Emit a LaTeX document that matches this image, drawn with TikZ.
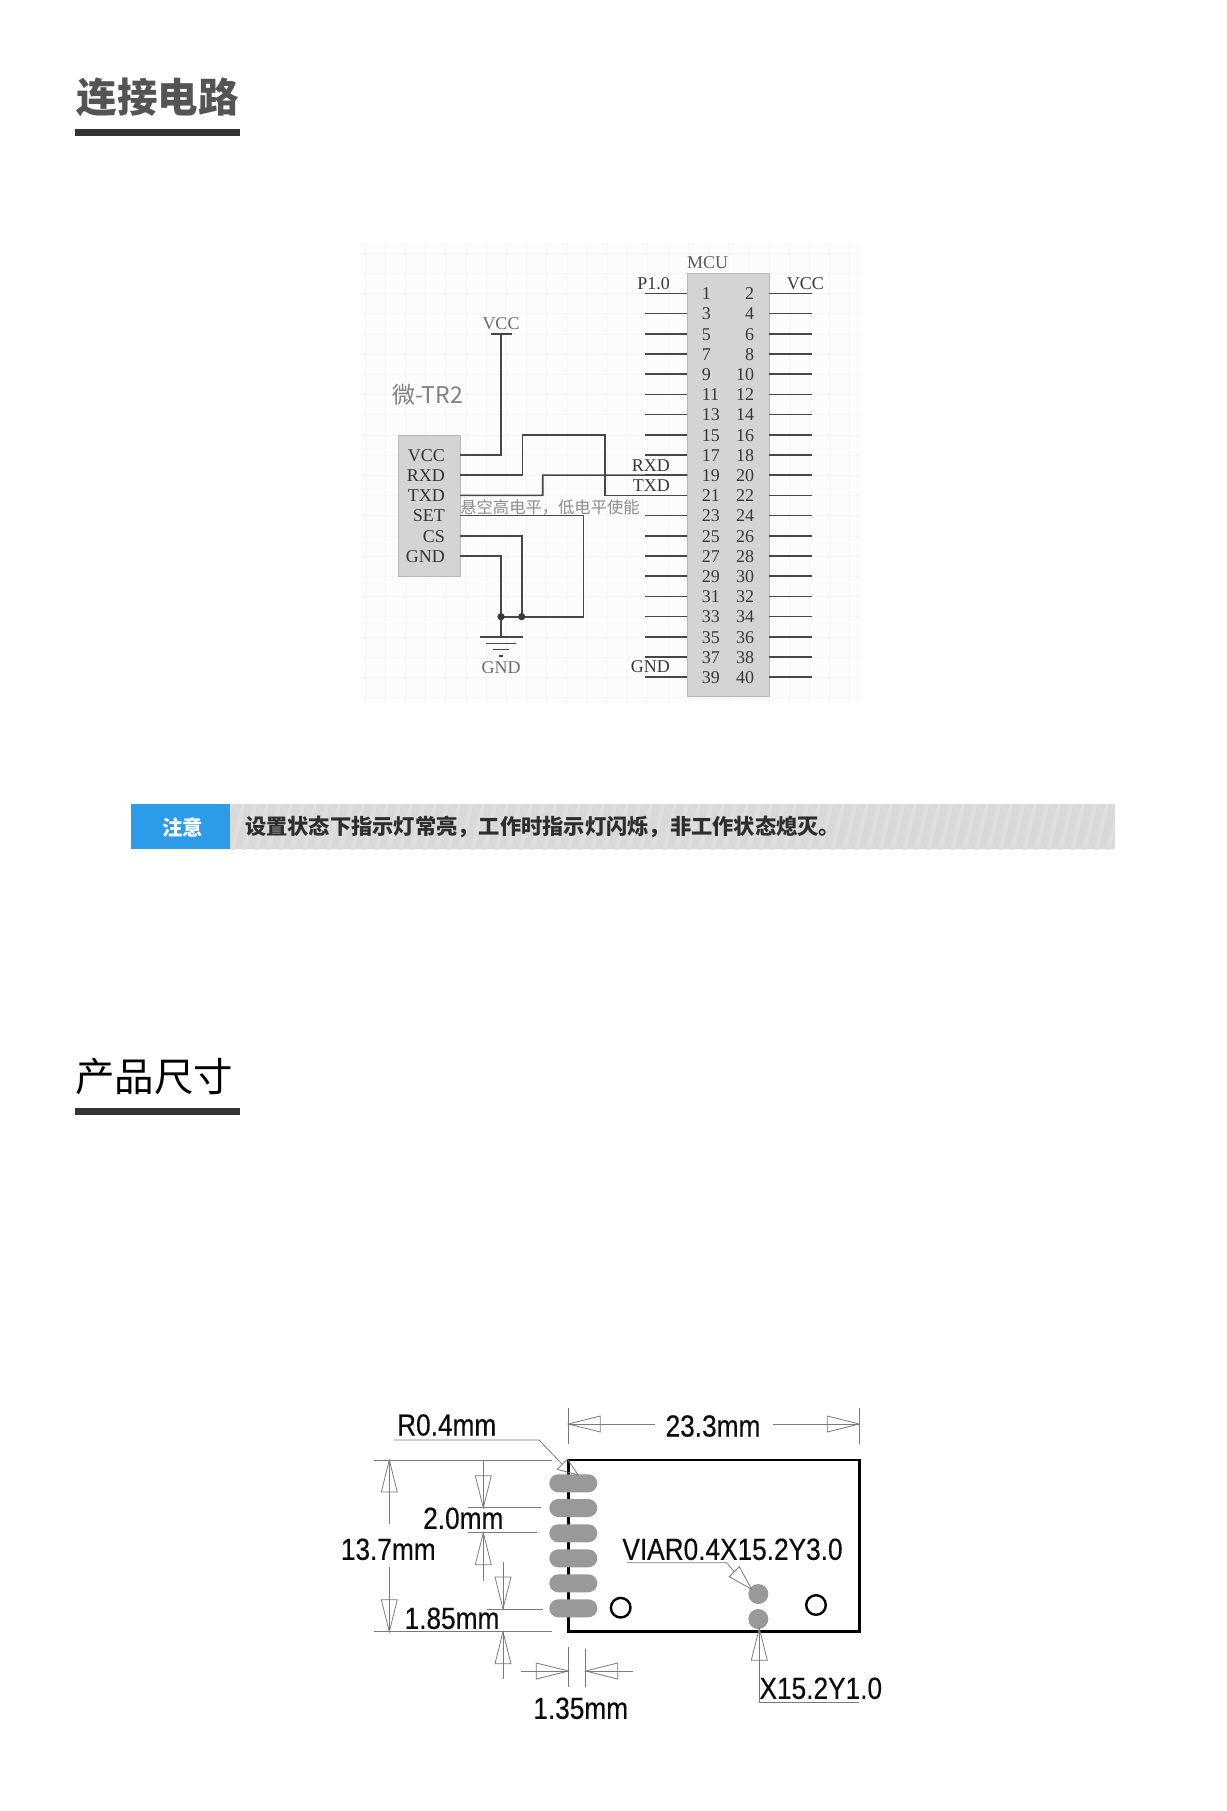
\documentclass[tikz,border=0pt]{standalone}
\usepackage{fontspec}
\setmainfont{Liberation Serif}
\newfontfamily\cjk{Noto Sans CJK SC}
\newfontfamily\dimf[FakeStretch=0.86,FakeBold=0.35]{Liberation Sans}
\newcommand{\fsz}[1]{\fontsize{#1}{#1}\selectfont}
\definecolor{noteblue}{HTML}{2C9CE8}
\tikzset{
  wire/.style={draw=black!72,line width=1.6pt},
  lbl/.style={inner sep=0pt,text=black!78,font=\fsz{18}},
  graylbl/.style={inner sep=0pt,text=black!58,font=\fsz{18}},
  chipbox/.style={draw=black!28,fill=black!17,line width=0.8pt,inner sep=0pt},
  dimline/.style={draw=black!52,line width=0.8pt},
  dimtext/.style={inner sep=0pt,text=black!95,font=\dimf\fsz{30.5}},
  pad/.style={fill=black!40,draw=none,rounded corners=9pt},
  opentip/.pic={\draw[dimline] (0,0)--(-32,-8)--(-32,8)--cycle;},
  gridln/.style={draw=black!3,line width=0.7pt},
  titlebar/.style={fill=black!80,draw=none,inner sep=0pt},
}
\begin{document}
\begin{tikzpicture}[x=1pt,y=-1pt]
\useasboundingbox (0,0) rectangle (1226,1811);
\fill[white] (0,0) rectangle (1226,1811);

% ---------- section titles ----------
\node[inner sep=0pt,text=black!67,font=\cjk\bfseries\fsz{40.5}] (t1) at (157.5,97) {连接电路};
\path[titlebar] (75,129) rectangle (240,136);
\node[inner sep=0pt,text=black,font=\cjk\fsz{39.5}] (t2) at (154,1077) {产品尺寸};
\path[titlebar] (75,1108) rectangle (240,1115);

% ---------- circuit background ----------
\fill[black!1.2] (360,243) rectangle (860,704);
\foreach \gx in {0,...,24} {\draw[gridln] (360+20.2*\gx+5,243) -- (360+20.2*\gx+5,704);}
\foreach \gy in {0,...,22} {\draw[gridln] (360,253.2+20.2*\gy) -- (860,253.2+20.2*\gy);}

% ---------- MCU ----------
\node[chipbox,minimum width=81.7pt,minimum height=423.4pt] (mcu) at (728.15,485) {};
\node[lbl,anchor=center,text=black!65] (mcut) at (707.5,263) {MCU};
\foreach \k in {0,...,19} {
  \pgfmathsetmacro{\py}{293.3+20.2*\k}
  \pgfmathsetmacro{\ty}{293.8+20.2*\k}
  \pgfmathtruncatemacro{\lnum}{2*\k+1}
  \pgfmathtruncatemacro{\rnum}{2*\k+2}
  \coordinate (mL\lnum) at (687.3,\py);
  \coordinate (sL\lnum) at (645,\py);
  \coordinate (mR\rnum) at (769,\py);
  \coordinate (sR\rnum) at (811.7,\py);
  \draw[wire] (sL\lnum) -- (mL\lnum);
  \draw[wire] (mR\rnum) -- (sR\rnum);
  \node[lbl,anchor=west] (nL\lnum) at (701.7,\ty) {\lnum};
  \node[lbl,anchor=east] (nR\rnum) at (754.3,\ty) {\rnum};
}
\node[lbl,anchor=east] (p10) at (670,283.5) {P1.0};
\node[lbl,anchor=west] (vccr) at (786.7,283.5) {VCC};
\node[lbl,anchor=east] (rxdm) at (670,465.7) {RXD};
\node[lbl,anchor=east] (txdm) at (670,485.7) {TXD};
\node[lbl,anchor=east] (gndm) at (670,667) {GND};

% ---------- module ----------
\node[inner sep=0pt,text=black!50,font=\cjk\fsz{23}] (modname) at (427.5,395) {微-TR2};
\node[chipbox,minimum width=61.7pt,minimum height=141pt] (mod) at (429.2,505.5) {};
\foreach \nm/\ly/\cname in {VCC/455.5/a,RXD/475.7/b,TXD/495.9/c,SET/516.1/d,CS/536.3/e,GND/556.5/f} {
  \node[lbl,anchor=east,text=black!80] (lab\cname) at (445,\ly) {\nm};
}
\foreach \ly/\cname in {455/a,475.2/b,495.4/c,515.6/d,535.8/e,556/f} {
  \coordinate (out\cname) at (460,\ly);
}
\coordinate (vcctop) at (501,334);
\coordinate (vccl) at (490.7,334);
\coordinate (vccr2) at (512.3,334);
\node[graylbl] (vcct) at (501,323.5) {VCC};
\draw[wire] (vccl) -- (vccr2);
\draw[wire] (outa) -| (vcctop);
% RXD of module to pin 21
\coordinate (r1) at (522.3,475.2);
\coordinate (r2) at (522.3,435);
\coordinate (r3) at (605,435);
\draw[wire] (outb) -- (r1) -- (r2) -- (r3) |- (mL21);
% TXD of module to pin 19
\coordinate (s1) at (542.7,495.4);
\coordinate (s2) at (542.7,475.1);
\draw[wire] (outc) -- (s1) -- (s2) -- (mL19);
% SET, CS, GND
\coordinate (jg) at (501,616.7);
\coordinate (jc) at (521.7,616.7);
\coordinate (gs1) at (583.3,515.6);
\coordinate (gs2) at (583.3,616.7);
\coordinate (gtop) at (501,636.7);
\draw[wire] (outd) -- (gs1) -- (gs2) -- (jg);
\draw[wire] (oute) -| (jc);
\draw[wire] (outf) -| (gtop);
\fill[black!78] (jg) circle (3.6pt) (jc) circle (3.6pt);
\draw[wire] (480,636.7) -- (522.7,636.7);
\draw[wire] (486,643.3) -- (516,643.3);
\draw[wire] (493,649.5) -- (509,649.5);
\draw[wire] (499,655.7) -- (503,655.7);
\node[graylbl] (gndt) at (501,667.5) {GND};
\node[inner sep=0pt,text=black!45,font=\cjk\fsz{16.3}] (note2) at (550,507.5) {悬空高电平，低电平使能};

% ---------- note bar ----------
\fill[black!15] (230,804) rectangle (1115,849);
\begin{scope}
  \clip (230,804) rectangle (1115,849);
  \foreach \sx in {0,...,75} {\draw[black!12.5,line width=4pt] (220+12*\sx,852) -- (232+12*\sx,801);}
\end{scope}
\fill[noteblue] (130.5,804) rectangle (230,849);
\node[inner sep=0pt,text=white,font=\cjk\bfseries\fsz{20.5}] (notea) at (182.5,827) {注意};
\node[anchor=west,inner sep=0pt,text=black!82,font=\cjk\bfseries\fsz{21.25}] (noteb) at (245,827) {设置状态下指示灯常亮，工作时指示灯闪烁，非工作状态熄灭。};

% ---------- dimension drawing ----------
\draw[black,line width=2.6pt] (568.3,1460) rectangle (859.3,1631.7);
\foreach \cy in {1483.3,1508,1533.3,1558.3,1583.3,1608.3} {
  \fill[pad] (549.3,\cy-9) rectangle (597.3,\cy+9);
}
\draw[black,line width=2.4pt] (620.7,1607.7) circle (9.8pt);
\draw[black,line width=2.4pt] (816,1605) circle (9.8pt);
\fill[black!40] (758.3,1594) circle (10pt);
\fill[black!40] (758.3,1619) circle (10pt);

% top dimension
\coordinate (dtl) at (568.3,1424);
\coordinate (dtr) at (859.3,1424);
\coordinate (dtla) at (655,1424);
\coordinate (dtra) at (772.7,1424);
\draw[dimline] (568.3,1408) -- (568.3,1444);
\draw[dimline] (859.3,1408) -- (859.3,1444);
\draw pic[rotate=180] at (dtl) {opentip};
\draw pic at (dtr) {opentip};
\node[dimtext] (d233) at (713,1426) {23.3mm};
\draw[dimline] (dtl) -- (dtla);
\draw[dimline] (dtra) -- (dtr);

% R0.4
\node[dimtext] (dr04) at (446.7,1425) {R0.4mm};
\draw[dimline] (394,1440) -- (539,1440) -- (562.3,1464.3);
\draw[dimline] (557.3,1469.3) -- (567.3,1459.3) -- (578.3,1475) -- cycle;

% 13.7 dimension
\draw[dimline] (374,1460) -- (552.3,1460);
\draw[dimline] (374,1631.7) -- (552.3,1631.7);
\coordinate (d13t) at (389.3,1460);
\coordinate (d13b) at (389.3,1631.7);
\draw pic[rotate=90] at (d13t) {opentip};
\draw pic[rotate=-90] at (d13b) {opentip};
\draw[dimline] (d13t) -- (389.3,1524.3);
\draw[dimline] (389.3,1567.3) -- (d13b);
\node[dimtext] (d137) at (388.3,1549.3) {13.7mm};

% 2.0 dimension
\draw[dimline] (467.7,1507.7) -- (540.7,1507.7);
\draw[dimline] (467.7,1532.7) -- (536.7,1532.7);
\coordinate (d2t) at (483.3,1507.7);
\coordinate (d2b) at (483.3,1532.7);
\draw pic[rotate=-90] at (d2t) {opentip};
\draw pic[rotate=90] at (d2b) {opentip};
\draw[dimline] (483.3,1460) -- (d2t);
\draw[dimline] (d2b) -- (483.3,1580.7);
\node[dimtext] (d20) at (463.3,1518.3) {2.0mm};

% 1.85 dimension
\draw[dimline] (487.3,1609) -- (543.3,1609);
\coordinate (d1t) at (503,1609);
\coordinate (d1b) at (503,1631.7);
\draw pic[rotate=-90] at (d1t) {opentip};
\draw pic[rotate=90] at (d1b) {opentip};
\draw[dimline] (503,1561.7) -- (d1t);
\draw[dimline] (d1b) -- (503,1679);
\node[dimtext] (d185) at (452,1618.3) {1.85mm};

% 1.35 dimension
\draw[dimline] (568.3,1646.7) -- (568.3,1686.7);
\draw[dimline] (585.7,1649) -- (585.7,1686.7);
\coordinate (d3l) at (568.3,1671);
\coordinate (d3r) at (585.7,1671);
\draw pic at (d3l) {opentip};
\draw pic[rotate=180] at (d3r) {opentip};
\draw[dimline] (521,1671) -- (d3l);
\draw[dimline] (d3r) -- (633.3,1671);
\node[dimtext] (d135) at (580.7,1708.3) {1.35mm};

% VIA labels
\node[dimtext] (dvia) at (732.5,1549.3) {VIAR0.4X15.2Y3.0};
\draw[dimline] (626.7,1562.7) -- (726.7,1562.7) -- (734.3,1571.7);
\draw[dimline] (729.3,1576.7) -- (739.3,1566.7) -- (751.7,1589.3) -- cycle;
\node[dimtext] (dx15) at (820.8,1688.3) {X15.2Y1.0};
\coordinate (vtip) at (759.3,1628.3);
\draw pic[rotate=90] at (vtip) {opentip};
\draw[dimline] (vtip) -- (759.3,1702.3) -- (859.3,1702.3);
\end{tikzpicture}
\end{document}
